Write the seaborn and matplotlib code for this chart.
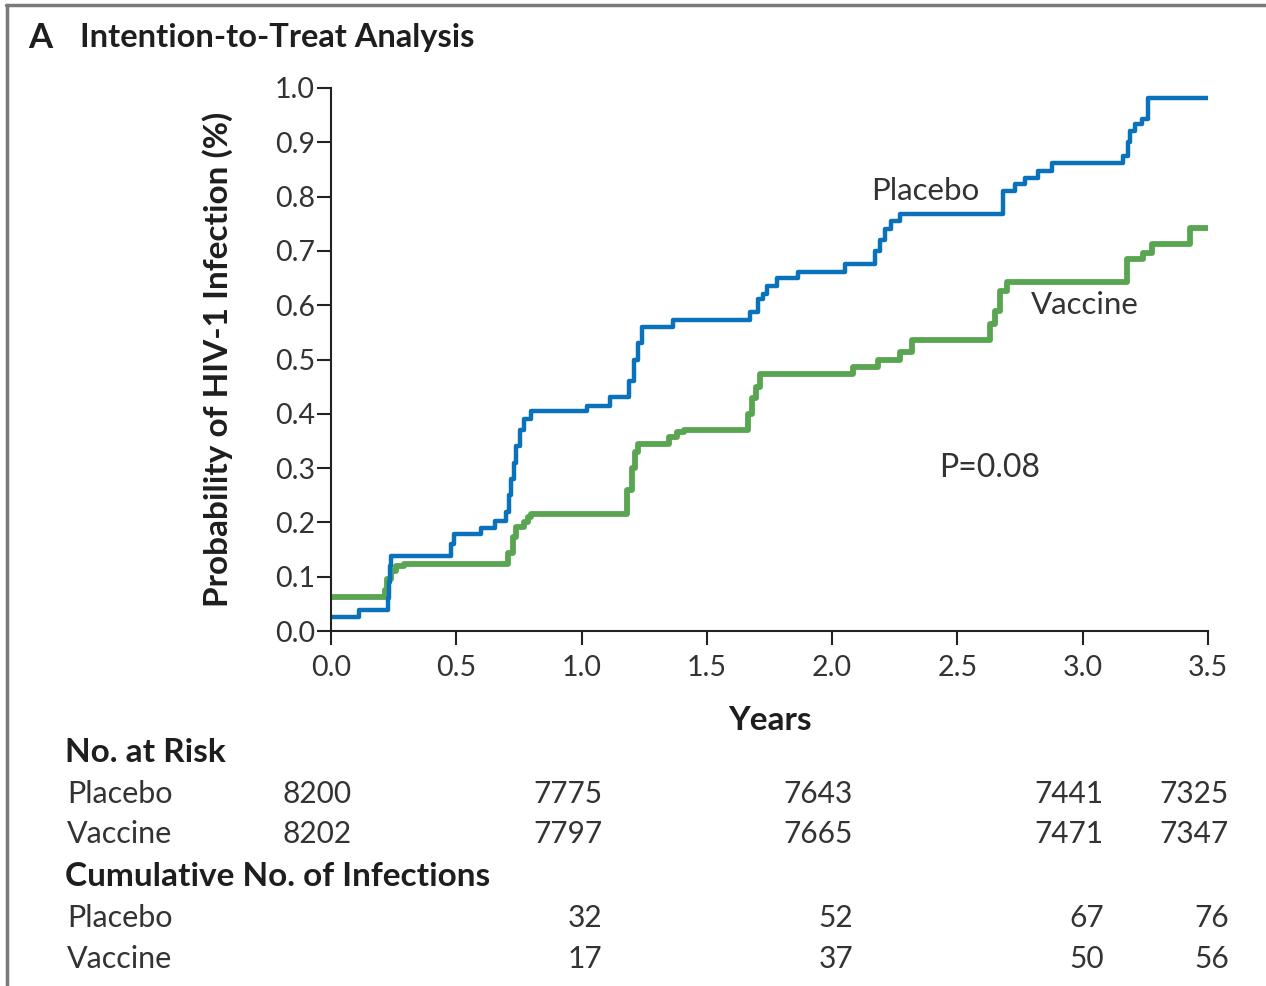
import matplotlib
matplotlib.use('Agg')
import matplotlib.pyplot as plt
import matplotlib.transforms as mtransforms
from matplotlib.lines import Line2D
import seaborn as sns
import pandas as pd

# ---- data ----
placebo_t = [0.0, 0.113, 0.229, 0.232, 0.236, 0.24, 0.48, 0.49, 0.60, 0.655,
             0.70, 0.71, 0.72, 0.73, 0.74, 0.755, 0.77, 0.80, 1.02, 1.113,
             1.19, 1.21, 1.225, 1.24, 1.366, 1.672, 1.705, 1.725, 1.74, 1.78,
             1.865, 2.05, 2.171, 2.19, 2.21, 2.235, 2.27, 2.683, 2.73, 2.77,
             2.82, 2.876, 3.162, 3.18, 3.19, 3.21, 3.235, 3.26, 3.5]
placebo_p = [0.025, 0.039, 0.06, 0.09, 0.12, 0.138, 0.16, 0.178, 0.19, 0.203,
             0.22, 0.25, 0.28, 0.31, 0.34, 0.37, 0.39, 0.405, 0.415, 0.431,
             0.46, 0.50, 0.53, 0.56, 0.573, 0.587, 0.611, 0.62, 0.636, 0.65,
             0.662, 0.676, 0.70, 0.72, 0.74, 0.755, 0.768, 0.81, 0.823, 0.835,
             0.847, 0.861, 0.875, 0.90, 0.92, 0.933, 0.942, 0.982, 0.982]

vaccine_t = [0.0, 0.215, 0.225, 0.24, 0.26, 0.29, 0.708, 0.725, 0.74, 0.77,
             0.785, 0.80, 1.18, 1.20, 1.215, 1.226, 1.35, 1.38, 1.41, 1.665,
             1.68, 1.695, 1.712, 2.084, 2.184, 2.27, 2.32, 2.63, 2.65, 2.67,
             2.696, 3.175, 3.24, 3.275, 3.428, 3.5]
vaccine_p = [0.062, 0.075, 0.095, 0.11, 0.12, 0.124, 0.143, 0.173, 0.192, 0.20,
             0.21, 0.216, 0.26, 0.30, 0.33, 0.345, 0.357, 0.366, 0.371, 0.40,
             0.43, 0.449, 0.474, 0.487, 0.499, 0.513, 0.536, 0.566, 0.59, 0.627,
             0.642, 0.685, 0.697, 0.713, 0.742, 0.742]

risk_times = [0.0, 1.0, 2.0, 3.0, 3.5]
risk_placebo = [8200, 7775, 7643, 7441, 7325]
risk_vaccine = [8202, 7797, 7665, 7471, 7347]

inf_times = [1.0, 2.0, 3.0, 3.5]
inf_placebo = [32, 52, 67, 76]
inf_vaccine = [17, 37, 50, 56]

x_ticks = [0.0, 0.5, 1.0, 1.5, 2.0, 2.5, 3.0, 3.5]
y_ticks = [0.0, 0.1, 0.2, 0.3, 0.4, 0.5, 0.6, 0.7, 0.8, 0.9, 1.0]

blue = '#0a72ba'
green = '#5aa552'
dark = '#1e1e1e'
grey = '#333333'

df = pd.concat([
    pd.DataFrame({'Years': placebo_t, 'Prob': placebo_p, 'Group': 'Placebo'}),
    pd.DataFrame({'Years': vaccine_t, 'Prob': vaccine_p, 'Group': 'Vaccine'}),
])

sns.set_theme(style='ticks')
plt.rcParams['font.family'] = ['Lato', 'DejaVu Sans']

fig = plt.figure(figsize=(12.66, 9.86), dpi=100)
ax = fig.add_axes([331 / 1266, 1 - 631 / 986, (1208 - 331) / 1266, (631 - 88) / 986])

sns.lineplot(data=df[df.Group == 'Vaccine'], x='Years', y='Prob', color=green,
             drawstyle='steps-post', estimator=None, linewidth=4.2, ax=ax,
             clip_on=False, solid_capstyle='butt')
sns.lineplot(data=df[df.Group == 'Placebo'], x='Years', y='Prob', color=blue,
             drawstyle='steps-post', estimator=None, linewidth=3.2, ax=ax,
             clip_on=False, solid_capstyle='butt')

ax.set_xlim(0, 3.5)
ax.set_ylim(0, 1.0)
ax.set_xticks(x_ticks)
ax.set_xticklabels([f'{v:.1f}' for v in x_ticks])
ax.set_yticks(y_ticks)
ax.set_yticklabels([f'{v:.1f}' for v in y_ticks])
ax.tick_params(axis='both', length=10, width=1.5, color='#222222', labelsize=20.5,
               labelcolor=grey, pad=1.5)
ax.tick_params(axis='x', pad=7)
sns.despine(ax=ax)
for s in ['left', 'bottom']:
    ax.spines[s].set_linewidth(1.5)
    ax.spines[s].set_color('#222222')

ax.set_xlabel('Years', fontsize=24, fontweight='bold', color=dark, labelpad=18)
ax.set_ylabel('Probability of HIV-1 Infection (%)', fontsize=24, fontweight='bold',
              color=dark, labelpad=30)

ax.text(2.37, 0.81, 'Placebo', fontsize=22.5, color=grey, ha='center', va='center')
ax.text(3.01, 0.60, 'Vaccine', fontsize=22.5, color=grey, ha='center', va='center')
ax.text(2.63, 0.30, 'P=0.08', fontsize=23, color=grey, ha='center', va='center')

# title
fig.text(28 / 1266, 1 - 38 / 986, 'A', fontsize=25, fontweight='bold', color=dark,
         ha='left', va='center')
fig.text(80 / 1266, 1 - 38 / 986, 'Intention-to-Treat Analysis', fontsize=23.5,
         fontweight='bold', color=dark, ha='left', va='center')

# risk table
trans = mtransforms.blended_transform_factory(ax.transData, fig.transFigure)
off = 0.083
rows = [
    (752, 'No. at Risk', True, None, None),
    (794, 'Placebo', False, risk_times, risk_placebo),
    (834, 'Vaccine', False, risk_times, risk_vaccine),
    (877, 'Cumulative No. of Infections', True, None, None),
    (918, 'Placebo', False, inf_times, inf_placebo),
    (959, 'Vaccine', False, inf_times, inf_vaccine),
]
for ypx, label, bold, times, vals in rows:
    yf = 1 - ypx / 986
    fig.text((65 if bold else 67) / 1266, yf, label, fontsize=24 if bold else 22,
             fontweight='bold' if bold else 'normal', color=dark if bold else grey,
             ha='left', va='center')
    if times is not None:
        for t, v in zip(times, vals):
            ax.text(t + off, yf, str(v), transform=trans, fontsize=21.5, color=grey,
                    ha='right', va='center', clip_on=False)

# frame lines of the panel
fig.add_artist(Line2D([6 / 1266, 1], [1 - 5 / 986, 1 - 5 / 986], transform=fig.transFigure,
                      color='#7a7a7a', linewidth=2.5))
fig.add_artist(Line2D([6.5 / 1266, 6.5 / 1266], [0, 1 - 5 / 986], transform=fig.transFigure,
                      color='#7a7a7a', linewidth=2.5))

fig.savefig('out.png', dpi=100)
